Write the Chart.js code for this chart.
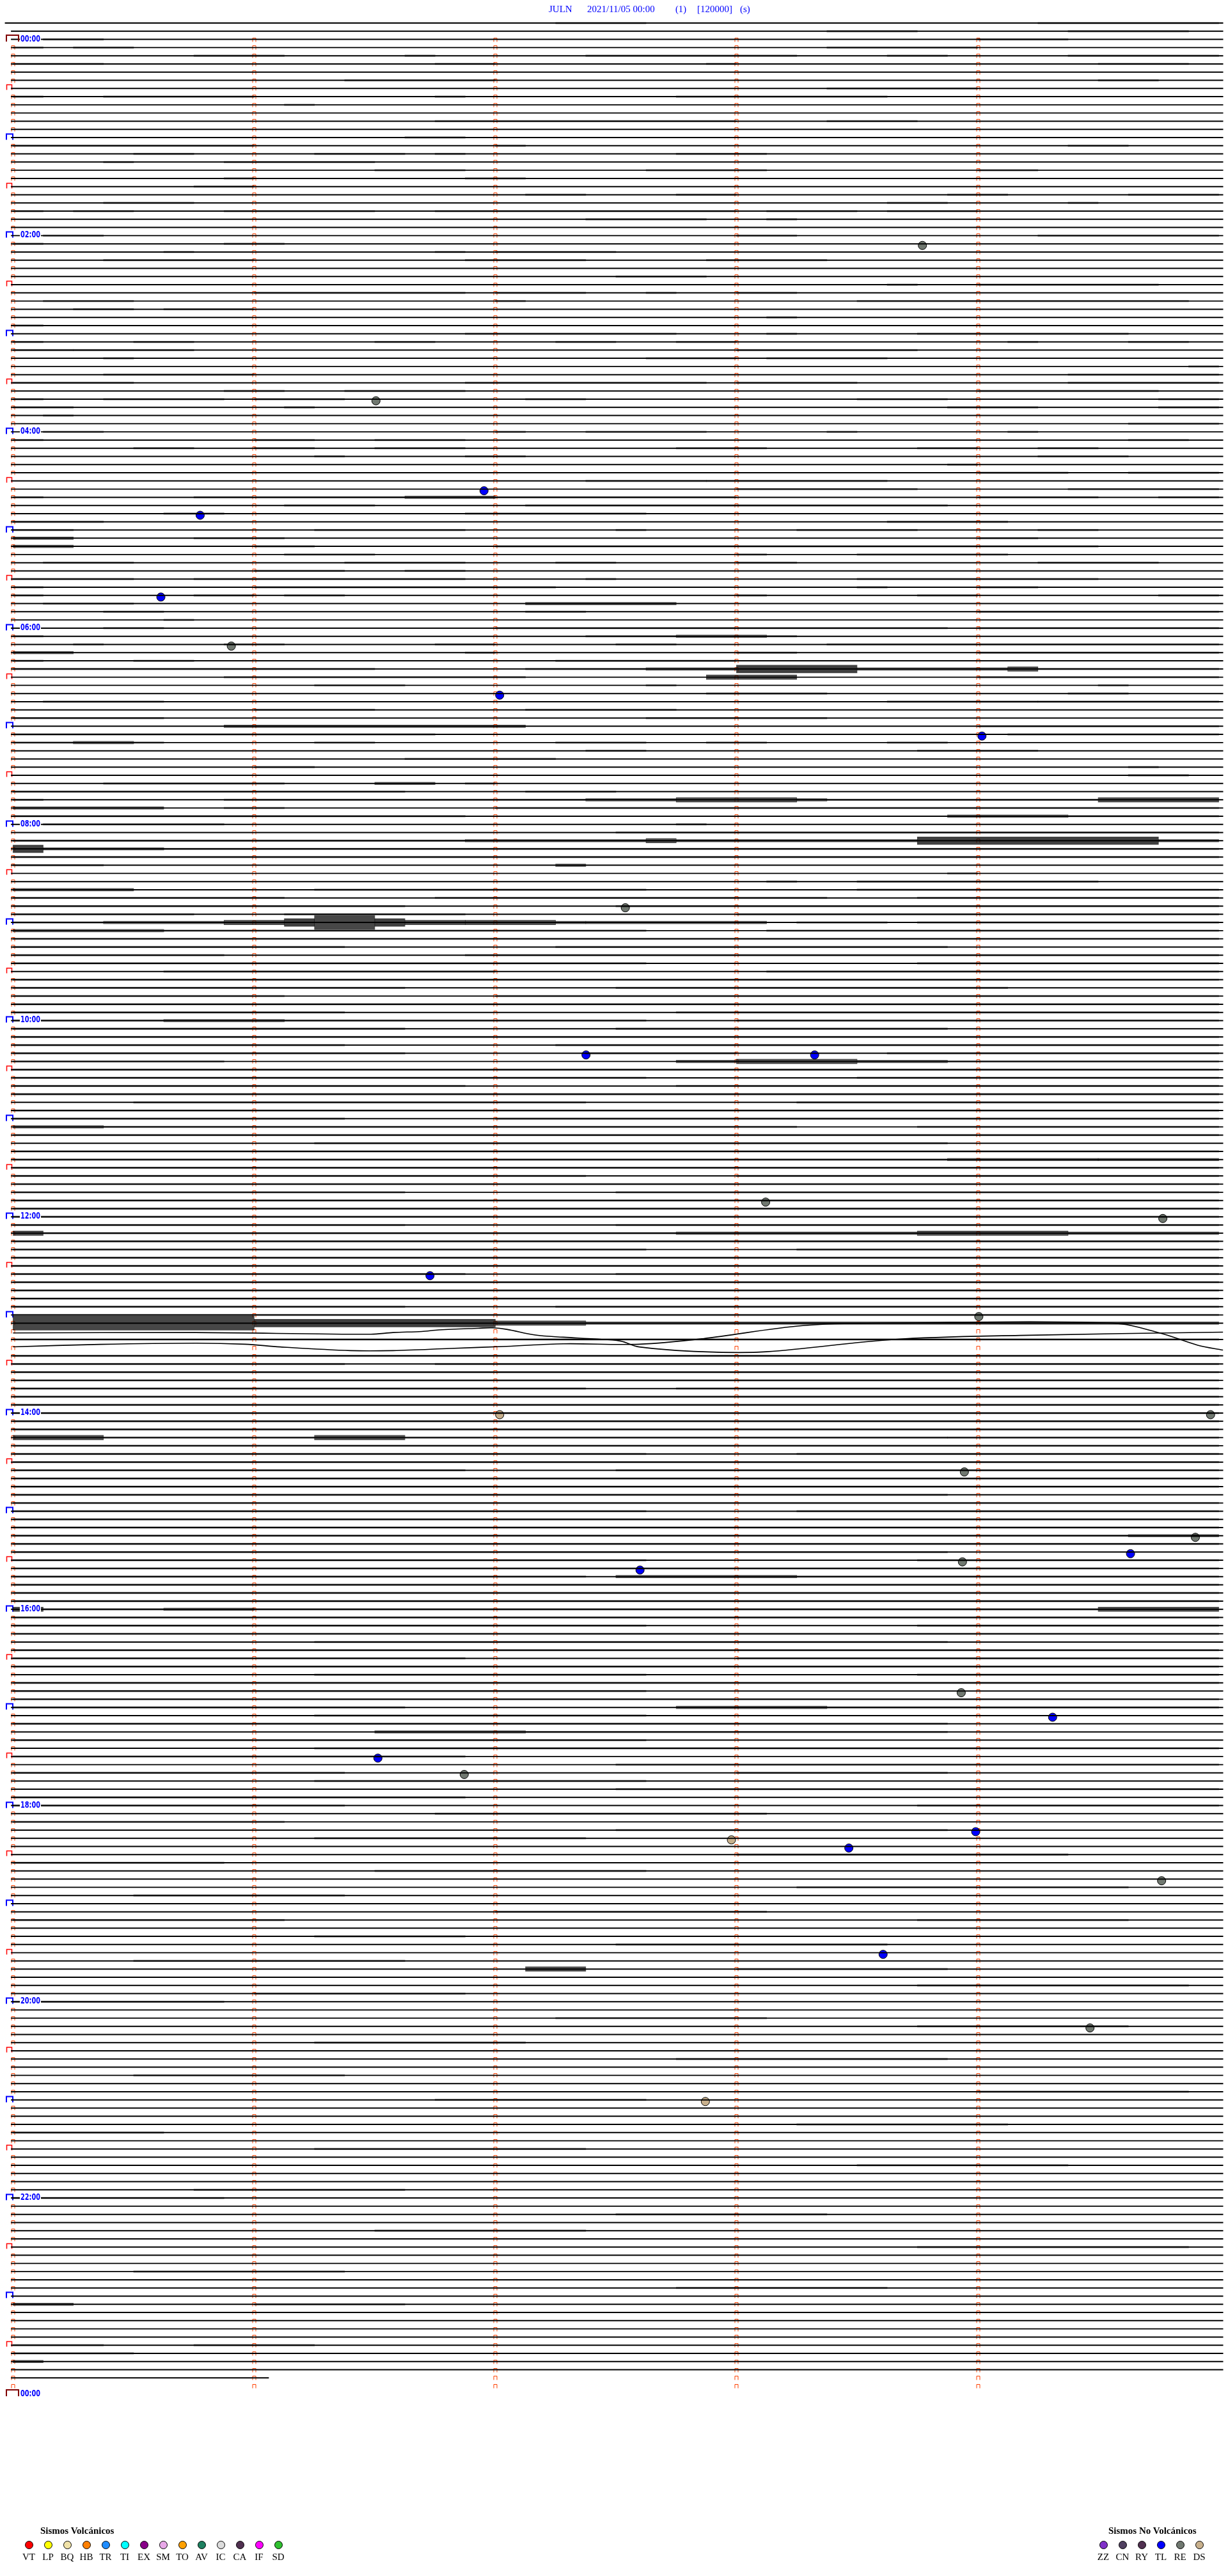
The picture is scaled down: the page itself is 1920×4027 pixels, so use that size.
<!DOCTYPE html>
<html>
<head>
<meta charset="utf-8">
<script src="https://cdn.jsdelivr.net/npm/chart.js@4"></script>
<style>
  html, body { margin: 0; padding: 0; background: #fff; }
  #wrap { position: relative; width: 1920px; height: 4027px; overflow: hidden; }
  #heli { position: absolute; left: 0; top: 0; }
  .lg-title { position: absolute; top: 3948px; font: bold 15px "Liberation Serif", serif; color: #000; white-space: nowrap; }
  .lg-dot { position: absolute; top: 3972px; width: 11px; height: 11px; border: 1px solid #000; border-radius: 50%; }
  .lg-lab { position: absolute; top: 3989px; width: 30px; text-align: center; font: 15px "Liberation Serif", serif; color: #000; }
</style>
</head>
<body>
<div id="wrap">
  <canvas id="heli" width="1920" height="4027"></canvas>
  <div id="legend"></div>
</div>
<script>
// --- datos del helicorder (filas de 5 min, columnas de 7.5 s) ---
const firstRow = -2;
const lastRowEnd = 1.06; // la ultima traza termina poco despues del minuto 1
// actividad por fila: "ini-fin:nivel" en columnas de 1/8 de minuto
const rowActivity = [
  "18-20 34-39", "27-29 35-38",
  // 00:00
  "1-2 32-34", "0 2-3 27-31", "6-8 13 19-25 29-30 35-39", "0-2 14-15 23 36-38", "", "11-15 36-37",
  "27-31", "0 3-7 14 22-28", "9", "", "14-23 27-29", "",
  "13-14", "0-7 16 35-36", "4-5 10-12 14 22-24", "3 7-11", "12-14 21-24 32-33", "7 15-16",
  "6-7", "17-18 22-23 31-32 37-39", "3-5 29-30 35", "0 2-3 7-11 14-23 25-27 29-31", "19-22 25", "",
  // 02:00
  "1-2 24-25 34-39", "0 7-8", "5 14 16-19", "3-7 15-18 23-26", "", "20-22",
  "29 32-37", "8-14 16-18 21 24-25", "1-3 16 28-38", "2-3 5-7", "25", "0",
  "15-21 25 30-36", "0 4-5 12-13 18-19 22-23 33 37-38", "0-1 2-5 24-29", "3 21-23 25-28", "39", "3-7 35-39",
  "0-3 15-22 24-27 35-39", "7-8 11-14 32-37", "0 3-6 8-10 17-18 28-30 38-39", "0-1 9 31-33 38-39", "1", "37-39",
  // 04:00
  "1-2 16 19-22 27 33", "0 8-9 12-14 37-38", "4-5 8-9 12-14 22-24 30-31 34-35", "10 15-16 34-36", "31", "32-34 37-39",
  "19-22 23-28", "24-29 35-39", "0 6-12 13-15:2 16-23 32-35 38-39", "9-11 17-30", "5-6 15-20", "0-2 29-32",
  "0-1 10-14 20 26-29 34-35", "0-1:2 6-8 32-33", "0-1:2 8-9 16-35", "9-11 24 28-32", "1-3 11-14 18-19 24-25 34-37", "8-10 13-14",
  "0-3 6-7 8-14 19 28-35", "0 8-17 28 32-33", "0 6-7 9-10 24 30-31 38-39", "1-3 17-21:2", "3-4 17-18 32-39", "5",
  // 06:00
  "3-4 16-30 32-39", "0 19-21 22-24:2 25", "2 7-8 14-15 20-21 27-39", "0-1:2 15 24-25 32-39", "0 4-5 18-23",
  "0-7 8-11 17-20 21-23:2 24-27:4 28-32:2 33:3 34-39",
  "7-16 23-25:3 32-39", "10-12 21 36", "23-26 35-36", "1-4 29-33 34-39", "8-11 17-21", "0-4 21-26",
  "7-16:2 32-39", "0-13 33-39", "0-1 2-3:2 4 10-11 18-20 23-24 29-30", "19-20 30-33", "13-17", "8-9 37",
  "37-38", "3-8 12-13:2 15", "0-12 17-19", "0 7-18 19-21:2 22-25:3 26:2 27-35 36-39:3",
  "0-4:2 7-8 16-39", "0-14 31-34:2 35-39",
  // 08:00
  "1-6 22", "20-39", "0-14 15-20:2 21:3 22-29:2 30-37:4 38-39:2", "0:4 1-4:2 5-39", "0-39", "0-2 18:2",
  "31", "25 28-35", "0-3:2 10-20 28-39", "0-8 14-26 30-39", "0-12 20-39", "0-5 9-14 24-39",
  "0-2 3-6:2 7-8:3 9:4 10-11:5 12:4 13-14:3 15-17:3 18:2 19-24:2 26-28 30-39", "0-4:2 5-20 25-39", "0-39", "0-10 18-30", "0-6 15-39", "0-20 30-39",
  "5-15 25-39", "0-39", "0-12 20-32", "0-8 16-39", "0-39", "0-10 22-39",
  // 10:00
  "0-4 5-8:2 9-20 24-39", "0-12 20-30", "0-39", "0-10 18-39", "0-12 19-23 29-39", "0-6 22-23:2 24-27:3 28-30:2 31-39",
  "0-39", "0-20 28-39", "0-14 22-39", "0-39", "4-18 26-39", "0-39",
  "0-10 16-39", "0-2:2 3-25 30-39", "0-39", "10-30", "0-39", "0-30 31-35:2 36-39:2",
  "0-39", "0-18 24-39", "0-39", "0-12 20-39", "0-39", "0-39",
  // 12:00
  "0-39", "0-12 20-39", "0:3 1-21 22-29:2 30-34:3 35-39:2", "0-39", "0-20 26-39", "0-39",
  "0-39", "0-14 20-39", "0-39", "0-39", "0-39", "0-12 18-39",
  "0-39", "0-7:5 8-15:4 16-18:3 19-39:2", "", "0-39", "", "0-39",
  "0-10 14-39", "0-39", "0-39", "0-18 22-39", "0-39", "0-39",
  // 14:00
  "0-39", "0-39", "0-39", "0-2:3 3-9 10-12:3 13-30 31-39", "0-39", "0-20 26-39",
  "0-39", "0-14 20-39", "0-39", "0-39", "0-30", "0-39",
  "0-20 26-39", "0-39", "0-39", "0-36 37-39:2", "0-39", "0-30",
  "0-20 30-39", "0-39", "0-18 20-25:2 26-39", "0-39", "0-39", "0-39",
  // 16:00
  "0:3 1-4 5-7:2 8-35 36-39:3", "0-39", "0-20 30-39", "0-39", "10-30", "0-39",
  "0-14 24-39", "0-39", "10-20 30-39", "0-39", "0-20", "0-39",
  "0-12 22-26:2 27-39", "10-20", "0-30", "12-16:2 17-30", "0-20", "10-39",
  "0-14", "20-39", "0-10 24-30", "10-20", "20-39", "0-14",
  // 18:00
  "0-10 30-39", "14-24", "0-8", "20-30", "10-18", "",
  "24-34", "0-6", "12-20", "", "26-36", "4-10",
  "", "16-24", "0-8 30-36", "", "10-14", "20-28",
  "", "4-12", "17-18:3 24-30", "", "30-38", "8-14",
  // 20:00
  "0-6", "", "18-24", "30-36", "", "10-16",
  "", "22-30", "", "4-10", "", "32-38",
  "14-20", "", "", "26-32", "0-4", "",
  "10-18", "", "28-34", "", "", "6-12",
  // 22:00
  "0-6", "", "20-26", "", "12-18", "",
  "30-38", "", "", "4-10", "", "22-28",
  "", "0-1:2 8-12", "", "", "", "",
  "0-2 6-9", "0-3", "0:2", ""
];
// filas con deriva de largo periodo (minuto, fila desplazada)
const driftRows = [158, 160];
const driftAMin = [0, 0.755, 1.484, 1.576, 1.695, 1.766, 1.929, 1.989, 2.047, 2.166, 2.282, 2.411, 2.518, 2.597,
  2.861, 3.124, 3.650, 4.176, 5.018];
const driftARow = [158.2, 158.15, 158.36, 158.15, 158.02, 157.83, 157.63, 157.58, 157.76, 158.46, 158.72, 158.93,
  159.19, 159.91, 160.5, 160.5, 159.0, 158.5, 158.1];
const driftBMin = [0, 0.361, 0.755, 0.961, 1.108, 1.400, 1.576, 1.813, 2.047, 2.282, 2.597, 2.861, 3.276, 3.650,
  4.558, 4.755, 4.913, 5.018];
const driftBRow = [159.9, 159.6, 159.45, 159.58, 159.91, 160.36, 160.36, 160.1, 159.84, 159.53, 159.58, 158.9,
  157.3, 157.0, 157.0, 158.2, 159.7, 160.3];
// eventos clasificados: minuto dentro de la fila, fila y tipo
const eventMin = [3.771, 1.505, 1.953, 0.776, 0.613, 0.905, 2.018, 4.018, 2.539, 2.376, 3.324,
  3.121, 4.768, 1.729, 4.005, 2.018, 4.966, 3.945, 4.903, 4.634, 2.600, 3.937, 3.932, 4.311,
  1.513, 1.871, 2.979, 3.466, 3.992, 4.763, 3.608, 4.466, 2.871];
const eventRow = [25, 44, 55, 58, 68, 74, 80, 85, 106, 124, 124,
  142, 144, 151, 156, 168, 168, 175, 183, 185, 187, 186, 202, 205,
  210, 212, 220, 221, 219, 225, 234, 243, 252];
const eventType = ["RE", "RE", "TL", "TL", "TL", "RE", "TL", "TL", "RE", "TL", "TL",
  "RE", "RE", "TL", "RE", "DS", "RE", "RE", "RE", "TL", "TL", "RE", "RE", "TL",
  "TL", "RE", "DS", "TL", "TL", "RE", "TL", "RE", "DS"];
const hourLabels = ["00:00", "02:00", "04:00", "06:00", "08:00", "10:00", "12:00",
  "14:00", "16:00", "18:00", "20:00", "22:00", "00:00"];
const titleParts = ["JULN", "2021/11/05 00:00", "(1)", "[120000]", "(s)"];
const volcCodes = ["VT", "LP", "BQ", "HB", "TR", "TI", "EX", "SM", "TO", "AV", "IC", "CA", "IF", "SD"];
const volcColors = ["#ff0000", "#ffff00", "#f0e2a8", "#ff8000", "#1e8cff", "#00ffff", "#880088",
  "#e8a8e8", "#ffa000", "#1e8060", "#dcdcdc", "#503050", "#ff00ff", "#30c030"];
const otherCodes = ["ZZ", "CN", "RY", "TL", "RE", "DS"];
const otherColors = ["#8030c8", "#504060", "#503050", "#0000ff", "#707870", "#c8b08c"];

const typeColor = {};
otherCodes.forEach((c, i) => typeColor[c] = otherColors[i]);

const ROWS = 288;            // filas con marcas de minuto (0..287)
const ROW_PX = 12.83;
const ROW0_PX = 54.3;
const MIN_PX = 380;
const X0_PX = 13;

const levelThick = { 1: 2.6, 2: 4, 3: 7, 4: 12, 5: 22 };
const levelColor = { 1: "rgba(0,0,0,0.42)", 2: "rgba(0,0,0,0.62)", 3: "rgba(0,0,0,0.7)",
  4: "rgba(0,0,0,0.75)", 5: "rgba(0,0,0,0.72)" };

// --- armar datasets ---
const baseData = [];
for (let r = firstRow; r < ROWS - 1; r++) {
  if (driftRows.includes(r)) continue;
  const start = r === firstRow ? -X0_PX / MIN_PX : -3 / MIN_PX;
  const end = r === ROWS - 2 ? lastRowEnd : 5.02;
  baseData.push({ y: r, x: [start, end] });
}

const levelData = { 1: [], 2: [], 3: [], 4: [], 5: [] };
rowActivity.forEach((spec, i) => {
  const row = firstRow + i;
  spec.trim().split(/\s+/).filter(Boolean).forEach(tok => {
    const [range, lvl] = tok.split(':');
    const [a, b] = range.split('-').map(Number);
    const hi = isNaN(b) ? a : b;
    levelData[lvl ? +lvl : 1].push({ y: row, x: [a / 8, (hi + 1) / 8] });
  });
});

const datasets = [{
  type: 'bar', indexAxis: 'y', grouped: false, data: baseData,
  backgroundColor: '#000', barThickness: 1.3, borderWidth: 0
}];
[1, 2, 3, 4, 5].forEach(l => datasets.push({
  type: 'bar', indexAxis: 'y', grouped: false, data: levelData[l],
  backgroundColor: levelColor[l], barThickness: levelThick[l], borderWidth: 0
}));
[[driftAMin, driftARow], [driftBMin, driftBRow]].forEach(([mins, rows]) => datasets.push({
  type: 'line',
  data: mins.map((m, i) => ({ x: m, y: rows[i] })),
  borderColor: '#000', borderWidth: 1.6, pointRadius: 0, tension: 0.35, fill: false
}));
datasets.push({
  type: 'scatter',
  data: eventMin.map((m, i) => ({ x: m, y: eventRow[i] + 0.2 })),
  backgroundColor: eventType.map(t => typeColor[t]),
  borderColor: '#000', borderWidth: 1, pointRadius: 6.5
});

// marcas de minuto, etiquetas horarias y titulo
const heliMarks = {
  id: 'heliMarks',
  beforeDatasetsDraw(chart) {
    const { ctx, scales: { x, y } } = chart;
    ctx.save();
    for (let r = 0; r < ROWS; r++) {
      const py = Math.round(y.getPixelForValue(r)) + 0.5;
      ctx.strokeStyle = '#ff4000';
      ctx.lineWidth = 1;
      for (let m = 0; m < 5; m++) {
        if (m === 0 && (r % 6 === 0)) continue;
        const px = Math.round(x.getPixelForValue(m)) + 0.5;
        ctx.beginPath();
        ctx.moveTo(px - 2.5, py + 3);
        ctx.lineTo(px - 2.5, py - 3);
        ctx.lineTo(px + 2.5, py - 3);
        ctx.lineTo(px + 2.5, py + 3);
        ctx.stroke();
      }
      if (r % 6 === 0 && r % 12 !== 0) {
        ctx.strokeStyle = '#f00';
        ctx.lineWidth = 1.5;
        ctx.beginPath();
        ctx.moveTo(10.5, py + 2); ctx.lineTo(10.5, py - 6); ctx.lineTo(18.5, py - 6); ctx.lineTo(18.5, py + 2);
        ctx.stroke();
      } else if (r % 12 === 0 && r !== 0) {
        ctx.strokeStyle = '#0000ff';
        ctx.lineWidth = 2;
        ctx.beginPath();
        ctx.moveTo(10, py + 3); ctx.lineTo(10, py - 6); ctx.lineTo(20, py - 6); ctx.lineTo(20, py + 3);
        ctx.stroke();
      }
    }
    ctx.restore();
  },
  afterDatasetsDraw(chart) {
    const { ctx, scales: { y } } = chart;
    ctx.save();
    hourLabels.forEach((lab, k) => {
      const r = k * 24;
      const py = Math.round(y.getPixelForValue(r));
      ctx.fillStyle = '#fff';
      ctx.fillRect(31, py - 9, 33, 13);
      if (r === 0 || r === 288) {
        ctx.strokeStyle = '#800000';
        ctx.lineWidth = 2;
        ctx.beginPath();
        ctx.moveTo(10, py + 3); ctx.lineTo(10, py - 7); ctx.lineTo(29, py - 7); ctx.lineTo(29, py + 3);
        ctx.stroke();
      }
      ctx.fillStyle = '#0000ff';
      ctx.font = 'bold 14px "Liberation Sans Narrow", "DejaVu Sans Condensed", sans-serif';
      ctx.textBaseline = 'alphabetic';
      ctx.fillText(lab, 32, py + 3, 31);
    });
    // titulo
    const tx = [858, 918, 1056, 1090, 1157];
    const tw = [38, 113, 17, 61, 18];
    ctx.fillStyle = '#0000ff';
    ctx.font = '15px "Liberation Serif", serif';
    titleParts.forEach((t, i) => ctx.fillText(t, tx[i], 19, tw[i]));
    ctx.restore();
  }
};

new Chart(document.getElementById('heli'), {
  type: 'bar',
  data: { datasets },
  options: {
    responsive: false,
    devicePixelRatio: 1,
    animation: false,
    layout: { padding: 0 },
    plugins: { legend: { display: false }, tooltip: { enabled: false }, title: { display: false } },
    scales: {
      x: {
        type: 'linear', axis: 'x', display: false, offset: false,
        min: -X0_PX / MIN_PX, max: (1920 - X0_PX) / MIN_PX
      },
      y: {
        type: 'linear', axis: 'y', display: false, offset: false, reverse: true,
        min: -ROW0_PX / ROW_PX, max: (4027 - ROW0_PX) / ROW_PX
      }
    }
  },
  plugins: [heliMarks]
});

// leyenda
const lg = document.getElementById('legend');
function addGroup(title, titleX, codes, colors, x0) {
  const t = document.createElement('div');
  t.className = 'lg-title'; t.style.left = titleX + 'px'; t.textContent = title;
  lg.appendChild(t);
  codes.forEach((c, i) => {
    const cx = x0 + 30 * i;
    const d = document.createElement('div');
    d.className = 'lg-dot'; d.style.left = (cx - 6) + 'px'; d.style.background = colors[i];
    lg.appendChild(d);
    const l = document.createElement('div');
    l.className = 'lg-lab'; l.style.left = (cx - 15) + 'px'; l.textContent = c;
    lg.appendChild(l);
  });
}
addGroup('Sismos Volcánicos', 63, volcCodes, volcColors, 45);
addGroup('Sismos No Volcánicos', 1733, otherCodes, otherColors, 1725);
</script>
</body>
</html>
